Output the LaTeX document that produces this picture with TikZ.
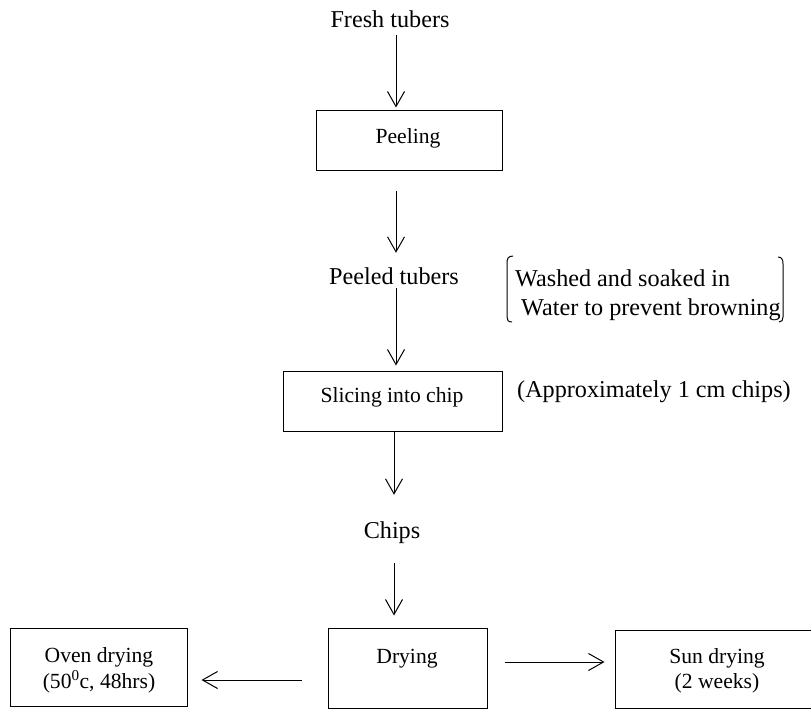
\documentclass[tikz,border=0pt]{standalone}
\usepackage{fontspec}
\setmainfont{Liberation Serif}
\usetikzlibrary{arrows.meta}
\begin{document}
\begin{tikzpicture}[x=1pt,y=-1pt,
  boxtext/.style={inner sep=0pt,anchor=base,font=\fontsize{21.6}{24}\selectfont},
  lbl/.style={inner sep=0pt,anchor=base,text height=16pt,text depth=5pt,font=\fontsize{24.2}{29}\selectfont},
  pbox/.style={draw,line width=1pt,inner sep=0pt},
  arr/.style={line width=1pt,-{Straight Barb[length=15pt,width=17pt,line width=1pt]}}
]
\useasboundingbox (0,0) rectangle (811,711);
\coordinate (axis) at (396,0);
\coordinate (axisb) at (394,0);
% boxes
\node[pbox,minimum width=186pt,minimum height=60pt] (peel) at (409,141) {};
\node[pbox,minimum width=219pt,minimum height=60pt] (slice) at (392.5,401) {};
\node[pbox,minimum width=177pt,minimum height=78pt] (oven) at (98.5,667) {};
\node[pbox,minimum width=159pt,minimum height=80pt] (dry) at (407.5,668) {};
\node[pbox,minimum width=204pt,minimum height=78pt] (sun) at (717,669) {};
% box texts
\node[boxtext] (peeltxt) at (408,144) {Peeling};
\node[boxtext] (slicetxt) at (392,402) {Slicing into chip};
\node[boxtext] (oven1) at (99,662) {Oven drying};
\node[boxtext] (oven2) at (99,688) {(50\textsuperscript{0}c, 48hrs)};
\node[boxtext] (drytxt) at (407,663) {Drying};
\node[boxtext] (sun1) at (717,663) {Sun drying};
\node[boxtext] (sun2) at (717,688) {(2 weeks)};
% free labels
\node[lbl] (fresh) at (390,28) {Fresh tubers};
\node[lbl] (peeled) at (394,285) {Peeled tubers};
\node[lbl] (chips) at (392,538) {Chips};
\node[lbl,anchor=base west] (approx) at (517,397) {(Approximately 1 cm chips)};
\node[lbl,anchor=base west] (wash1) at (515,287) {Washed and soaked in};
\node[lbl,anchor=base west] (wash2) at (521,316) {Water to prevent browning};
% brackets
\draw[line width=1pt] (513,256) .. controls (508,256) and (507,259) .. (507,263) -- (507,317) .. controls (507,320) and (508,322) .. (512,322);
\draw[line width=1pt] (778,257) .. controls (782,257) and (783,260) .. (783,264) -- (783,317) .. controls (783,320) and (782,322) .. (779,322);
% vertical arrows
\draw[arr,shorten <=2pt,shorten >=3pt] (fresh.south -| axis) -- (peel.north -| axis);
\draw[arr,shorten <=20pt,shorten >=16pt] (peel.south -| axis) -- (peeled.north -| axis);
\draw[arr,shorten <=-2pt,shorten >=5pt] (peeled.south -| axis) -- (slice.north -| axis);
\draw[arr,shorten >=27pt] (slice.south -| axisb) -- (chips.north -| axisb);
\draw[arr,shorten <=20pt,shorten >=12pt] (chips.south -| axisb) -- (dry.north -| axisb);
% horizontal arrows
\coordinate (yl) at (0,680);
\coordinate (yr) at (0,662);
\draw[arr,shorten <=26pt,shorten >=14pt] (dry.west |- yl) -- (oven.east |- yl);
\draw[arr,shorten <=17pt,shorten >=10pt] (dry.east |- yr) -- (sun.west |- yr);
\end{tikzpicture}
\end{document}
